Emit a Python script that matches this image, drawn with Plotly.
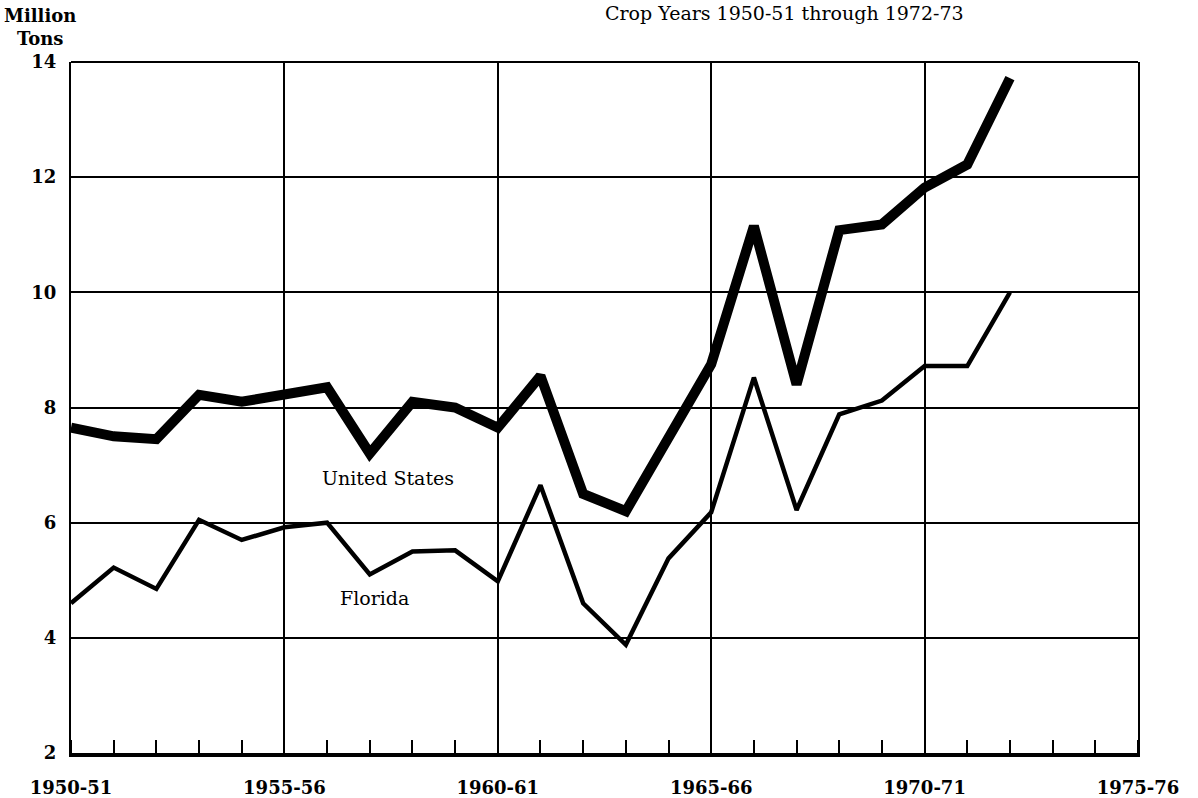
import plotly.graph_objects as go

# ---- data -------------------------------------------------------------
crop_years = ["1950-51", "1951-52", "1952-53", "1953-54", "1954-55", "1955-56",
              "1956-57", "1957-58", "1958-59", "1959-60", "1960-61", "1961-62",
              "1962-63", "1963-64", "1964-65", "1965-66", "1966-67", "1967-68",
              "1968-69", "1969-70", "1970-71", "1971-72", "1972-73"]
start_years = [1950, 1951, 1952, 1953, 1954, 1955, 1956, 1957, 1958, 1959, 1960,
               1961, 1962, 1963, 1964, 1965, 1966, 1967, 1968, 1969, 1970, 1971, 1972]

us_tons = [7.65, 7.5, 7.45, 8.22, 8.1, 8.22, 8.35, 7.2, 8.1, 8.0, 7.65, 8.55,
           6.5, 6.2, 7.45, 8.75, 11.15, 8.4, 11.08, 11.18, 11.82, 12.22, 13.72]
florida_tons = [4.6, 5.22, 4.85, 6.05, 5.7, 5.92, 6.0, 5.1, 5.5, 5.52, 4.98, 6.65,
                4.6, 3.88, 5.38, 6.18, 8.52, 6.22, 7.88, 8.12, 8.72, 8.72, 10.0]

x_tick_years = [1950, 1955, 1960, 1965, 1970, 1975]
x_tick_labels = ["1950-51", "1955-56", "1960-61", "1965-66", "1970-71", "1975-76"]
y_ticks = [2, 4, 6, 8, 10, 12, 14]

FONT = "DejaVu Serif"

fig = go.Figure()
fig.add_trace(go.Scatter(x=start_years, y=us_tons, mode="lines", name="United States",
                         line=dict(color="black", width=10), hoverinfo="x+y"))
fig.add_trace(go.Scatter(x=start_years, y=florida_tons, mode="lines", name="Florida",
                         line=dict(color="black", width=4.5), hoverinfo="x+y"))

fig.update_layout(
    width=1198, height=798, autosize=False,
    paper_bgcolor="white", plot_bgcolor="white",
    showlegend=False,
    margin=dict(l=71, r=60, t=62, b=45),
    font=dict(family=FONT, size=17, color="black"),
)

fig.update_xaxes(
    range=[1950, 1975], tickvals=x_tick_years, ticktext=x_tick_labels,
    showgrid=True, gridcolor="black", gridwidth=1.6,
    showline=True, linecolor="black", linewidth=4, mirror=False,
    ticks="", ticklabelstandoff=15, zeroline=False, automargin=False,
    tickfont=dict(family=FONT, size=18, color="black", weight="bold"),
    minor=dict(dtick=1, tick0=1950, ticks="inside", ticklen=13, tickwidth=2,
               tickcolor="black", showgrid=False),
)
fig.update_yaxes(
    range=[2, 14], tickvals=y_ticks,
    showgrid=True, gridcolor="black", gridwidth=1.6,
    showline=True, linecolor="black", linewidth=2, mirror=True,
    ticks="", ticklabelstandoff=9, zeroline=False, automargin=False,
    tickfont=dict(family=FONT, size=18, color="black", weight="bold"),
)

# top border
fig.add_shape(type="line", xref="paper", yref="paper", x0=0, x1=1, y0=1, y1=1,
              line=dict(color="black", width=2))

fig.add_annotation(xref="paper", yref="paper", x=-0.029, y=1.0, yshift=11,
                   xanchor="center", yanchor="bottom", showarrow=False,
                   text="Million<br>Tons", align="center",
                   font=dict(family=FONT, size=18, weight="bold"))
fig.add_annotation(xref="paper", yref="paper", x=0.669, y=1.0, yshift=36,
                   xanchor="center", yanchor="bottom", showarrow=False,
                   text="Crop Years 1950-51 through 1972-73",
                   font=dict(family=FONT, size=19))
fig.add_annotation(x=1957.42, y=6.78, showarrow=False, text="United States",
                   font=dict(family=FONT, size=19))
fig.add_annotation(x=1957.12, y=4.7, showarrow=False, text="Florida",
                   font=dict(family=FONT, size=19))

fig.write_html("out.html", config={"displayModeBar": False},
               post_script="document.body.style.margin='0';")
